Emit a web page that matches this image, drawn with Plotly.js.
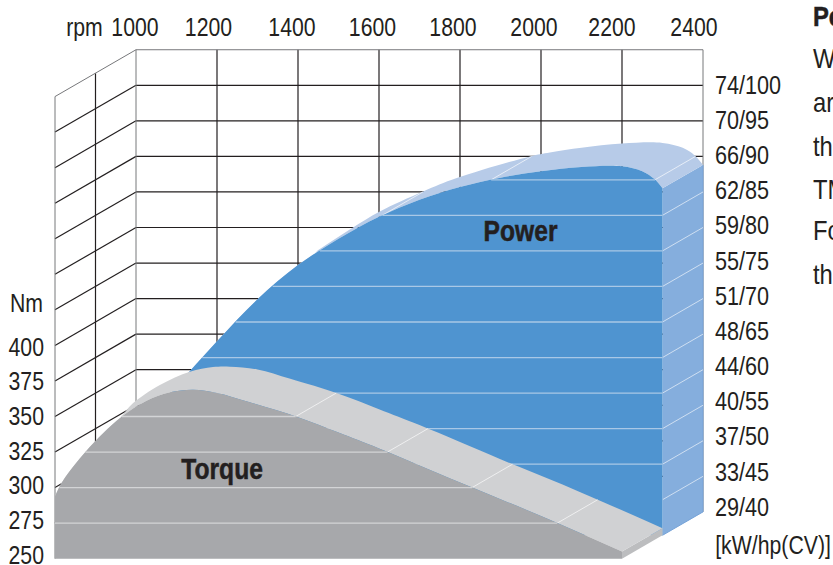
<!DOCTYPE html>
<html>
<head>
<meta charset="utf-8">
<script src="https://cdn.plot.ly/plotly-3.0.1.min.js"></script>
<style>html,body{margin:0;padding:0;background:#fff;overflow:hidden}#chart{width:833px;height:565px}</style>
</head>
<body>
<div id="chart"></div>
<script>
// ---- values ----
const rpmTicks = [1000,1200,1400,1600,1800,2000,2200,2400];
const nmTicks = [400,375,350,325,300,275,250];
const hpTicks = [100,95,90,85,80,75,70,65,60,55,50,45,40];
const kwTicks = [74,70,66,62,59,55,51,48,44,40,37,33,29];

const torqueRpm = [1000,1020,1075,1120,1165,1226,1284,1341,1400,1481,1600,1700,1800,2000,2200,2400];
const torqueNm  = [294,305,325,338.5,350,361,367,368.8,366.6,360,349.5,338.7,327.5,303.5,280,255];
// rear edge of the torque ribbon, as drawn
const torqueBackRpm = [1073,1093,1159,1233,1290,1332,1400,1481,1600,1700,1800,2000,2200,2400];
const torqueBackNm  = [336.7,343,355.7,365,368.3,368.6,366.6,360,349.5,338.7,327.5,303.5,280,255];

const powerRpm = [1000,1100,1200,1300,1400,1500,1600,1700,1800,1900,2000,2100,2200,2300,2350,2380,2400];
const powerHp  = [46.4,54.5,61,67.3,73.2,78,81.7,84.8,87.2,89,90.3,91.2,91.8,91.9,91.2,90.1,88.8];
// rear edge of the power ribbon, as drawn
const powerBackRpm = [1449,1533,1602,1709,1792,1973,2022,2100,2200,2300,2350,2380,2400];
const powerBackHp  = [76.8,79.9,82.25,85.06,86.95,90,90.55,91.2,91.8,91.9,91.2,90.1,88.8];

const sideText = ["W","ar","th","TM","Fo","th"];

// ---- projection of the pseudo-3D box: depth 0 torque face, 1 power face, 2 back wall ----
const pxPerRpm = 0.405, pxPerNm = 35.55/25;
const x0px = 55, y0px = 558.7;           // rpm 1000 / 250 Nm on the front face
const depthRpm = 100, depthNm = 16.46;
const W = 833, H = 565;
const hpToNm = h => 50 + 5*h;
const px = (r,d) => r + depthRpm*d;
const py = (n,d) => n + depthNm*d;
const xRange = [1000 - x0px/pxPerRpm, 1000 + (W-x0px)/pxPerRpm];
const yRange = [250 - (H-y0px)/pxPerNm, 250 + y0px/pxPerNm];

const wallLevels = [];
for (let n = 275; n <= 575; n += 25) wallLevels.push(n);
const powerLevels = hpTicks.filter(h => h >= 45 && h <= 90);
const torqueLevels = [275,300,325,350];

const FONT = '"Liberation Sans",Arial,sans-serif';
const INK = '#231f20';

function seg(list){
  const x=[],y=[];
  list.forEach(s=>{ s.forEach(p=>{x.push(p[0]);y.push(p[1]);}); x.push(null); y.push(null); });
  return {x,y};
}
function lineTrace(list,color,width){
  return Object.assign(seg(list),{type:'scatter',mode:'lines',line:{color,width},hoverinfo:'skip',showlegend:false});
}
function crossings(xs,ys,level){
  const out=[];
  for(let i=0;i<xs.length-1;i++){
    const a=ys[i]-level,b=ys[i+1]-level;
    if(a*b<=0 && a!==b) out.push(xs[i]+(xs[i+1]-xs[i])*a/(a-b));
  }
  return out;
}
function curve(xs,ys,d){
  return {x:xs.map(r=>px(r,d)),y:ys.map(n=>py(n,d)),type:'scatter',mode:'lines',
          line:{shape:'spline',smoothing:1,width:0,color:'rgba(0,0,0,0)'},hoverinfo:'skip',showlegend:false};
}
function band(baseCurve,topCurve,color){
  topCurve.fill='tonexty'; topCurve.fillcolor=color;
  return [baseCurve,topCurve];
}

const powerNm = powerHp.map(hpToNm);
const powerBackNm = powerBackHp.map(hpToNm);
const traces = [];

// walls
const wallDark=[], wallGrey=[];
rpmTicks.forEach((r,i)=>{
  const s=[[px(r,2),py(250,2)],[px(r,2),py(575,2)]];
  (i===0||i===rpmTicks.length-1?wallGrey:wallDark).push(s);
});
wallLevels.forEach(n=>{
  (n===575?wallGrey:wallDark).push([[px(1000,2),py(n,2)],[px(2400,2),py(n,2)]]);
  (n===575?wallGrey:wallDark).push([[px(1000,0),py(n,0)],[px(1000,2),py(n,2)]]);
});
wallDark.push([[px(1000,1),py(250,1)],[px(1000,1),py(575,1)]]);
wallGrey.push([[px(1000,0),py(250,0)],[px(1000,0),py(575,0)]]);
traces.push(lineTrace(wallDark,INK,1.2));
traces.push(lineTrace(wallGrey,'#77787b',1));

// power: side face, ribbon, ribbon lines, front face, face lines
const endP = powerNm[powerNm.length-1];
traces.push({x:[px(2400,1),px(2400,2),px(2400,2),px(2400,1)],y:[py(endP,1),py(endP,2),py(250,2),py(250,1)],
  type:'scatter',mode:'lines',fill:'toself',fillcolor:'#85aedd',line:{width:0},hoverinfo:'skip',showlegend:false});
traces.push(lineTrace([[[px(2400,2),py(endP,2)],[px(2400,2),py(250,2)],[px(2400,1),py(250,1)]]],'#76a3d8',1));
traces.push(...band(curve(powerRpm,powerNm,1),curve(powerBackRpm,powerBackNm,2),'#b7cbe8'));
const ribbonP=[], sideP=[], faceP=[];
powerLevels.forEach(h=>{
  const n=hpToNm(h), c=crossings(powerRpm,powerHp,h);
  const left=c[0], right=c.length>1?c[1]:2400;
  faceP.push([[px(left,1),py(n,1)],[px(right,1),py(n,1)]]);
  ribbonP.push([[px(left,1),py(n,1)],[px(left,2),py(n,2)]]);
  if(c.length>1) ribbonP.push([[px(right,1),py(n,1)],[px(right,2),py(n,2)]]);
  else sideP.push([[px(2400,1),py(n,1)],[px(2400,2),py(n,2)]]);
});
traces.push(lineTrace(ribbonP,'rgba(255,255,255,0.65)',1));
traces.push(lineTrace(sideP,'rgba(255,255,255,0.6)',1));
traces.push(...band(curve(powerRpm,powerNm.map(()=>250),1),curve(powerRpm,powerNm,1),'#4f94d0'));
traces.push(lineTrace(faceP,'#a9c8e6',1.3));

// torque: end strip, ribbon, ribbon lines, front face, face lines
const endT = torqueNm[torqueNm.length-1];
traces.push({x:[px(2400,0),px(2400,1),px(2400,1),px(2400,0)],y:[py(endT,0),py(endT,1),py(250,1),py(250,0)],
  type:'scatter',mode:'lines',fill:'toself',fillcolor:'#bcbdbf',line:{width:0},hoverinfo:'skip',showlegend:false});
traces.push(...band(curve(torqueRpm,torqueNm,0),curve(torqueBackRpm,torqueBackNm,1),'#d0d1d3'));
const ribbonT=[], faceT=[];
torqueLevels.forEach(n=>{
  const c=crossings(torqueRpm,torqueNm,n);
  const left=c.length>1?c[0]:1000, right=c[c.length-1];
  faceT.push([[px(left,0),py(n,0)],[px(right,0),py(n,0)]]);
  ribbonT.push([[px(right,0),py(n,0)],[px(right,1),py(n,1)]]);
});
traces.push(lineTrace(ribbonT,'rgba(255,255,255,0.65)',1));
traces.push(...band(curve(torqueRpm,torqueNm.map(()=>250),0),curve(torqueRpm,torqueNm,0),'#a7a8ab'));
traces.push(lineTrace(faceT,'#d3d4d6',1.3));

// carriers that make the label axes exist
const labelFont={family:FONT,size:25,color:INK};
traces.push({x:rpmTicks,y:rpmTicks.map(()=>300),xaxis:'x2',yaxis:'y',type:'scatter',mode:'lines',opacity:0,hoverinfo:'skip',showlegend:false});
traces.push({x:rpmTicks,y:hpTicks.slice(0,8),xaxis:'x',yaxis:'y2',type:'scatter',mode:'lines',opacity:0,hoverinfo:'skip',showlegend:false});
traces.push({x:rpmTicks.slice(0,nmTicks.length),y:nmTicks,xaxis:'x',yaxis:'y3',type:'scatter',mode:'lines',opacity:0,hoverinfo:'skip',showlegend:false});

// hand-set label nudges of the original, in pixels
const rpmLabelNudge=[-1,-8.5,-6,-6.5,-7,-7,-10,-9];

const annotations=[
  {text:'rpm',x:84.5/W,y:1-27/H,xref:'paper',yref:'paper',showarrow:false,font:labelFont,xanchor:'center',yanchor:'middle'},
  {text:'Nm',x:26.5/W,y:1-303/H,xref:'paper',yref:'paper',showarrow:false,font:labelFont,xanchor:'center',yanchor:'middle'},
  {text:'[kW/hp(CV)]',x:773/W,y:1-545/H,xref:'paper',yref:'paper',showarrow:false,font:labelFont,xanchor:'center',yanchor:'middle'},
  {text:'<b>Power</b>',x:px(2050,1),y:py(hpToNm(82.8),1),showarrow:false,font:{family:FONT,size:29,color:INK},xanchor:'center',yanchor:'middle'},
  {text:'<b>Torque</b>',x:1413,y:313,showarrow:false,font:{family:FONT,size:29,color:INK},xanchor:'center',yanchor:'middle'},
  {text:'<b>Pe</b>',x:811/W,y:1-16/H,xref:'paper',yref:'paper',showarrow:false,font:{family:FONT,size:28,color:INK},xanchor:'left',yanchor:'middle'}
];
const sideY=[59,102.5,146,189,231,274];
sideText.forEach((t,i)=>annotations.push({text:t,x:811/W,y:1-sideY[i]/H,xref:'paper',yref:'paper',showarrow:false,
  font:{family:FONT,size:28,color:INK},xanchor:'left',yanchor:'middle'}));

const axisBase={showgrid:false,zeroline:false,showline:false,ticks:'',tickmode:'array',tickfont:labelFont,fixedrange:true,ticklabeloverflow:'allow'};
const layout={
  width:W,height:H,margin:{l:0,r:0,t:0,b:0},paper_bgcolor:'#fff',plot_bgcolor:'#fff',showlegend:false,
  xaxis:{range:xRange,visible:false,fixedrange:true},
  yaxis:{range:yRange,visible:false,fixedrange:true},
  xaxis2:Object.assign({},axisBase,{range:xRange,overlaying:'x',side:'top',anchor:'free',position:1-41/H,
          tickvals:rpmTicks.map((r,i)=>r+200+rpmLabelNudge[i]/pxPerRpm),ticktext:rpmTicks.map(String)}),
  yaxis2:Object.assign({},axisBase,{range:[40-58*60/422,100+85*60/422],overlaying:'y',side:'right',anchor:'free',position:714/W,
          tickvals:hpTicks,ticktext:hpTicks.map((h,i)=>kwTicks[i]+'/'+h)}),
  yaxis3:Object.assign({},axisBase,{range:[250-10*150/208,400+347*150/208],overlaying:'y',side:'left',anchor:'free',position:44/W,
          tickvals:nmTicks,ticktext:nmTicks.map(String)}),
  annotations
};
Plotly.newPlot('chart',traces,layout,{displayModeBar:false,staticPlot:true}).then(gd=>{
  // the original face is a condensed grotesque: condense the real text glyphs
  gd.querySelectorAll('.x2tick text,.y2tick text,.y3tick text,.annotation-text').forEach(t=>{
    const w=t.getComputedTextLength();
    const ann=t.classList.contains('annotation-text');
    const bold=ann && t.querySelector('[style*="bold"]');
    const k=t.closest('.y2tick')?0.865:0.85;
    t.setAttribute('lengthAdjust','spacingAndGlyphs');
    t.setAttribute('textLength',(w*k).toFixed(2));
    if(ann && t.closest('.annotation').getAttribute('data-index')>=5){
      t.setAttribute('x',(parseFloat(t.getAttribute('x'))-w*(1-k)/2).toFixed(2));
    }
    if(bold){ t.style.stroke=INK; t.style.strokeWidth='0.5px'; }
  });
});
</script>
</body>
</html>
